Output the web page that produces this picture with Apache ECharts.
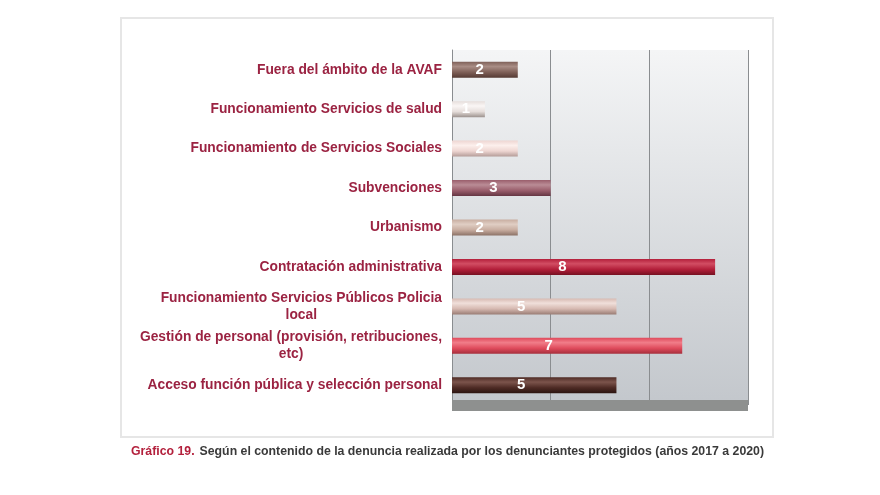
<!DOCTYPE html>
<html>
<head>
<meta charset="utf-8">
<script src="https://cdn.jsdelivr.net/npm/echarts@6/dist/echarts.min.js"></script>
<style>
  html, body { margin: 0; padding: 0; background: #ffffff; }
  #chart { width: 880px; height: 495px; }
</style>
</head>
<body>
<div id="chart"></div>
<script>
const categories = [
  "Fuera del ámbito de la AVAF",
  "Funcionamiento Servicios de salud",
  "Funcionamiento de Servicios Sociales",
  "Subvenciones",
  "Urbanismo",
  "Contratación administrativa",
  "Funcionamiento Servicios Públicos Policia\nlocal",
  "Gestión de personal (provisión, retribuciones,\netc)",
  "Acceso función pública y selección personal"
];
const values = [2, 1, 2, 3, 2, 8, 5, 7, 5];
const xTicks = [0, 3, 6, 9];

// base / highlight / shadow colour for each bar (cylinder look)
const barColors = [
  ["#7f6058", "#a98d85", "#553a33"],
  ["#e6dedb", "#faf6f5", "#9c928e"],
  ["#eed6d2", "#fcefec", "#b39b97"],
  ["#9a5e6c", "#ba8c96", "#643542"],
  ["#c8ada0", "#e0cec4", "#8c7266"],
  ["#b31f3a", "#d24d63", "#771022"],
  ["#d6b9b1", "#f0dfda", "#9a7d75"],
  ["#df4b5c", "#f17d89", "#a52e3b"],
  ["#4e2b25", "#7c544c", "#2b1410"]
];

function cylinder(c) {
  return new echarts.graphic.LinearGradient(0, 0, 0, 1, [
    { offset: 0, color: c[0] },
    { offset: 0.3, color: c[1] },
    { offset: 0.65, color: c[0] },
    { offset: 1, color: c[2] }
  ]);
}

const chart = echarts.init(document.getElementById("chart"));
const font = "'Liberation Sans', Arial, sans-serif";

chart.setOption({
  backgroundColor: "#ffffff",
  animation: false,
  title: {
    left: 126,
    top: 438,
    text: "{a|Gráfico 19.} {b|Según el contenido de la denuncia realizada por los denunciantes protegidos (años 2017 a 2020)}",
    textStyle: {
      rich: {
        a: { color: "#b3203c", fontWeight: "bold", fontSize: 12.3, fontFamily: font },
        b: { color: "#3a3a3a", fontWeight: "bold", fontSize: 12.3, fontFamily: font }
      }
    }
  },
  graphic: [
    {
      type: "rect",
      shape: { x: 121, y: 18, width: 652, height: 419 },
      style: { fill: "none", stroke: "#e6e6e6", lineWidth: 2 },
      silent: true
    }
  ],
  grid: {
    left: 452,
    right: 132,
    top: 50,
    bottom: 90,
    show: true,
    borderWidth: 0,
    backgroundColor: new echarts.graphic.LinearGradient(0, 0, 0, 1, [
      { offset: 0, color: "#f4f5f6" },
      { offset: 1, color: "#c3c7cc" }
    ])
  },
  xAxis: {
    type: "value",
    min: xTicks[0],
    max: xTicks[xTicks.length - 1],
    interval: xTicks[1] - xTicks[0],
    axisLabel: { show: false },
    axisTick: { show: false },
    axisLine: { show: true, lineStyle: { color: "#8e908f", width: 11, cap: "butt" } },
    splitLine: { show: true, lineStyle: { color: "#8a8d90", width: 1 } }
  },
  yAxis: {
    type: "category",
    inverse: true,
    data: categories,
    axisTick: { show: false },
    axisLine: { show: true, lineStyle: { color: "#8a8d90", width: 1 } },
    axisLabel: {
      margin: 10,
      formatter: function (v) {
        const lines = v.split("\n");
        if (lines.length === 1) return "{a|" + v + "}";
        return "{a|" + lines[0] + "}\n{c|" + lines[1] + "}";
      },
      rich: {
        a: { color: "#9b2342", fontWeight: "bold", fontSize: 13.8, fontFamily: font, lineHeight: 17 },
        c: { color: "#9b2342", fontWeight: "bold", fontSize: 13.8, fontFamily: font, lineHeight: 17, align: "center" }
      }
    }
  },
  series: [
    {
      type: "bar",
      barWidth: 16,
      data: values.map(function (v, i) {
        return { value: v, itemStyle: { color: cylinder(barColors[i]) } };
      }),
      label: {
        show: true,
        position: ["42%", "50%"],
        align: "center",
        verticalAlign: "middle",
        color: "#ffffff",
        fontWeight: "bold",
        fontSize: 15,
        fontFamily: font
      }
    }
  ]
});
</script>
</body>
</html>
